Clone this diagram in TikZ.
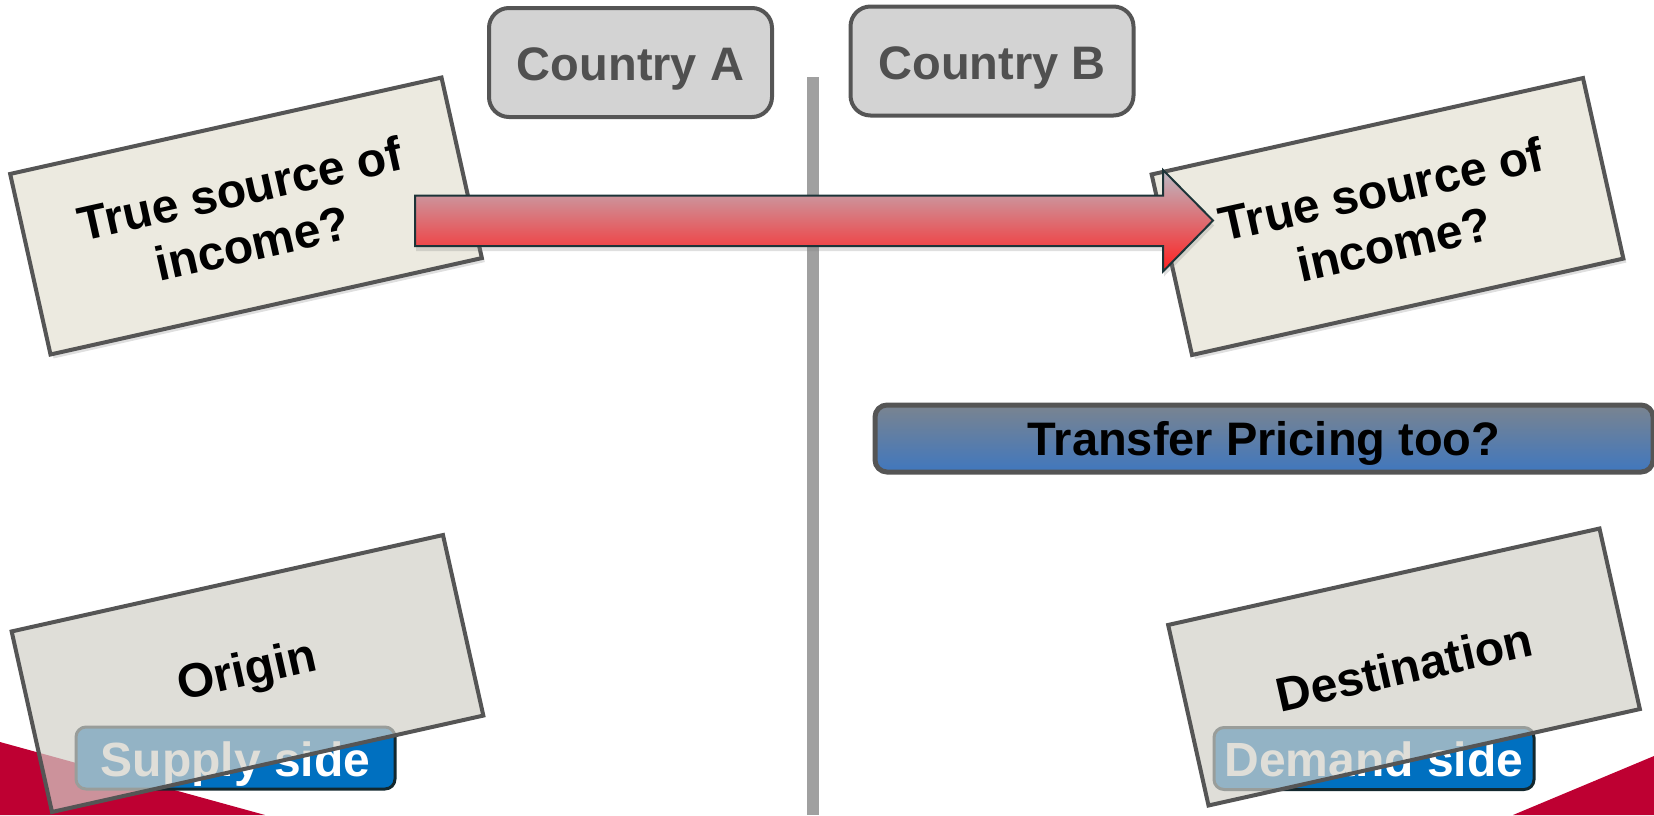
\documentclass[tikz,border=0pt]{standalone}
\usepackage{fontspec}
\setmainfont{Liberation Sans}
\usetikzlibrary{shadows}
\definecolor{boxborder}{HTML}{555555}
\definecolor{beige}{HTML}{ECEAE0}
\definecolor{graybox}{RGB}{210,208,200}
\definecolor{countryfill}{HTML}{D3D3D3}
\definecolor{countrytext}{HTML}{505050}
\definecolor{linegray}{HTML}{A0A0A0}
\definecolor{crimson}{HTML}{BE0032}
\definecolor{sideblue}{HTML}{0070C0}
\definecolor{sideborder}{HTML}{13282E}
\definecolor{arrowtop}{RGB}{188,186,196}
\definecolor{arrowmid}{RGB}{220,130,135}
\definecolor{arrowbot}{RGB}{255,32,32}
\definecolor{arrowborder}{HTML}{1C3438}
\definecolor{bartop}{HTML}{7A8490}
\definecolor{barmid}{HTML}{3A68A3}
\definecolor{barbot}{HTML}{4077BE}
\begin{document}
\begin{tikzpicture}[x=1pt,y=-1pt,
  bigfont/.style={font=\fontsize{48}{56}\selectfont\bfseries},
  notebox/.style={draw=boxborder, line width=4pt, minimum width=442pt,
    minimum height=185pt, rotate=12.6, align=center, bigfont, inner sep=0pt},
  topnote/.style={notebox, fill=beige,
    drop shadow={opacity=0.25, shadow xshift=3pt, shadow yshift=-4pt}},
  botnote/.style={notebox, fill=graybox, fill opacity=0.7, text opacity=1, draw opacity=1},
  countrybox/.style={draw=boxborder, fill=countryfill, line width=4pt,
    rounded corners=20pt, minimum width=283pt, minimum height=109pt,
    inner sep=0pt, text height=36pt, text depth=0pt,
    font=\fontsize{47}{52}\selectfont\bfseries, text=countrytext},
  sidebox/.style={draw=sideborder, fill=sideblue, line width=3pt,
    rounded corners=10pt, minimum height=62pt, inner sep=0pt,
    text height=36pt, text depth=0pt, text=white, bigfont},
  barbox/.style={draw=boxborder, line width=5pt, rounded corners=12pt,
    top color=bartop, middle color=barmid, bottom color=barbot,
    minimum width=778pt, minimum height=67pt, inner sep=0pt,
    text height=34pt, text depth=0pt,
    font=\fontsize{47}{52}\selectfont\bfseries, text=black},
  divider/.style={draw=linegray, line width=12pt},
  redband/.style={fill=crimson}
]
\useasboundingbox (0,0) rectangle (1654,815);
% red template bands
\fill[redband] (0,742) -- (265,815) -- (0,815) -- cycle;
\fill[redband] (1654,756) -- (1654,815) -- (1513,815) -- cycle;
% divider
\coordinate (divtop) at (813,77);
\coordinate (divbot) at (813,815);
\draw[divider] (divtop) -- (divbot);
% country headers
\node[countrybox] (ca) at (630.5,62.5) {Country A};
\node[countrybox] (cb) at (992,61) {Country B};
% transfer pricing bar
\node[barbox] (tp) at (1264,438.5) {Transfer Pricing too?};
% supply / demand labels
\node[sidebox, minimum width=319pt] (sup) at (235.5,758) {Supply side};
\node[sidebox, minimum width=320pt] (dem) at (1374,758.5) {Demand side};
% bottom notes (semi-transparent)
\node[botnote] (orig) at (247.5,673.5) {Origin};
\node[botnote] (dest) at (1404,667) {Destination};
% top notes
\node[topnote] (srcA) at (246,216) {True source of\\income?};
\node[topnote] (srcB) at (1387.5,216.5) {True source of\\income?};
% block arrow
\coordinate (arrS) at (415,220.5);
\coordinate (arrE) at (1213,220.5);
\shade[top color=arrowtop, middle color=arrowmid, bottom color=arrowbot,
  draw=arrowborder, line width=2pt, line join=miter,
  drop shadow={opacity=0.25, shadow xshift=1pt, shadow yshift=-5pt}]
  (arrS |- 0,195.5) -- (1163,195.5) -- (1163,170) -- (arrE)
  -- (1163,271.5) -- (1163,246) -- (arrS |- 0,246) -- cycle;
\end{tikzpicture}
\end{document}
